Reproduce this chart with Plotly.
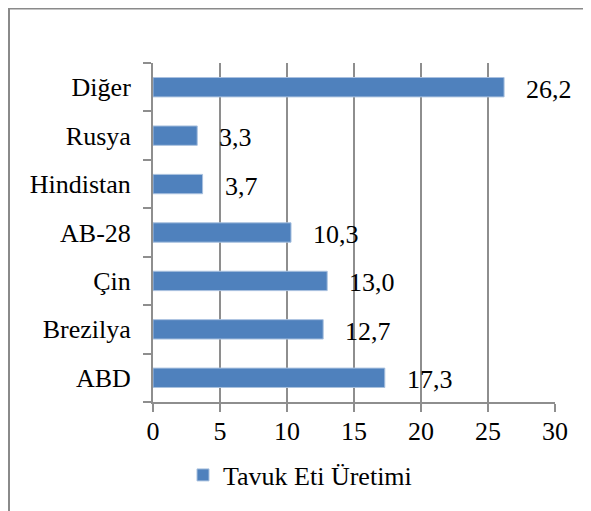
import plotly.graph_objects as go

categories = ["ABD", "Brezilya", "Çin", "AB-28", "Hindistan", "Rusya", "Diğer"]
values = [17.3, 12.7, 13.0, 10.3, 3.7, 3.3, 26.2]
series_name = "Tavuk Eti Üretimi"
x_ticks = [0, 5, 10, 15, 20, 25, 30]

FONT = "Liberation Serif"
FS = 26
GRID = "#8e8e8e"

labels = [f"{v:.1f}".replace(".", ",") for v in values]

fig = go.Figure()
fig.add_trace(go.Bar(
    y=categories, x=values, orientation="h", name=series_name,
    marker=dict(color="#4F81BD", line=dict(color="#a9c1df", width=1)),
    showlegend=True,
))

for c, v, t in zip(categories, values, labels):
    fig.add_annotation(x=v, y=c, text=t, xref="x", yref="y", showarrow=False,
                       xanchor="left", yanchor="middle", xshift=20, yshift=-2,
                       font=dict(family=FONT, size=FS, color="black"))

W, H = 591, 511
L, T = 145, 55
pw, ph = 402, 339
R = W - L - pw
B = H - T - ph
def px(xp):
    return (xp - L) / pw
def py(yp):
    return (H - B - yp) / ph

fig.add_shape(type="rect", xref="paper", yref="paper",
              x0=px(1), x1=px(600), y0=py(520), y1=py(0.5),
              line=dict(color="#8a8a8a", width=2), fillcolor="rgba(0,0,0,0)", layer="below")

fig.update_layout(
    width=W, height=H,
    margin=dict(l=L, r=R, t=T, b=B),
    paper_bgcolor="white", plot_bgcolor="white",
    font=dict(family=FONT, size=FS, color="black"),
    bargap=0.6,
    showlegend=True,
    legend=dict(orientation="h", x=px(292), xanchor="center", y=py(467), yanchor="middle",
                font=dict(family=FONT, size=FS), itemwidth=30),
    xaxis=dict(range=[0, 30], tickvals=x_ticks, showgrid=True, gridcolor=GRID, gridwidth=2,
               showline=True, linecolor=GRID, linewidth=2, ticks="outside", ticklen=8,
               tickcolor=GRID, tickwidth=2, zeroline=False, fixedrange=True,
               ticklabelstandoff=-3, tickfont=dict(family=FONT, size=FS)),
    yaxis=dict(showline=True, linecolor=GRID, linewidth=2, ticks="outside", ticklen=8,
               tickcolor=GRID, tickwidth=2, tickson="boundaries", showgrid=False,
               ticklabelstandoff=15, fixedrange=True, tickfont=dict(family=FONT, size=FS)),
)

fig.write_html("out.html")
